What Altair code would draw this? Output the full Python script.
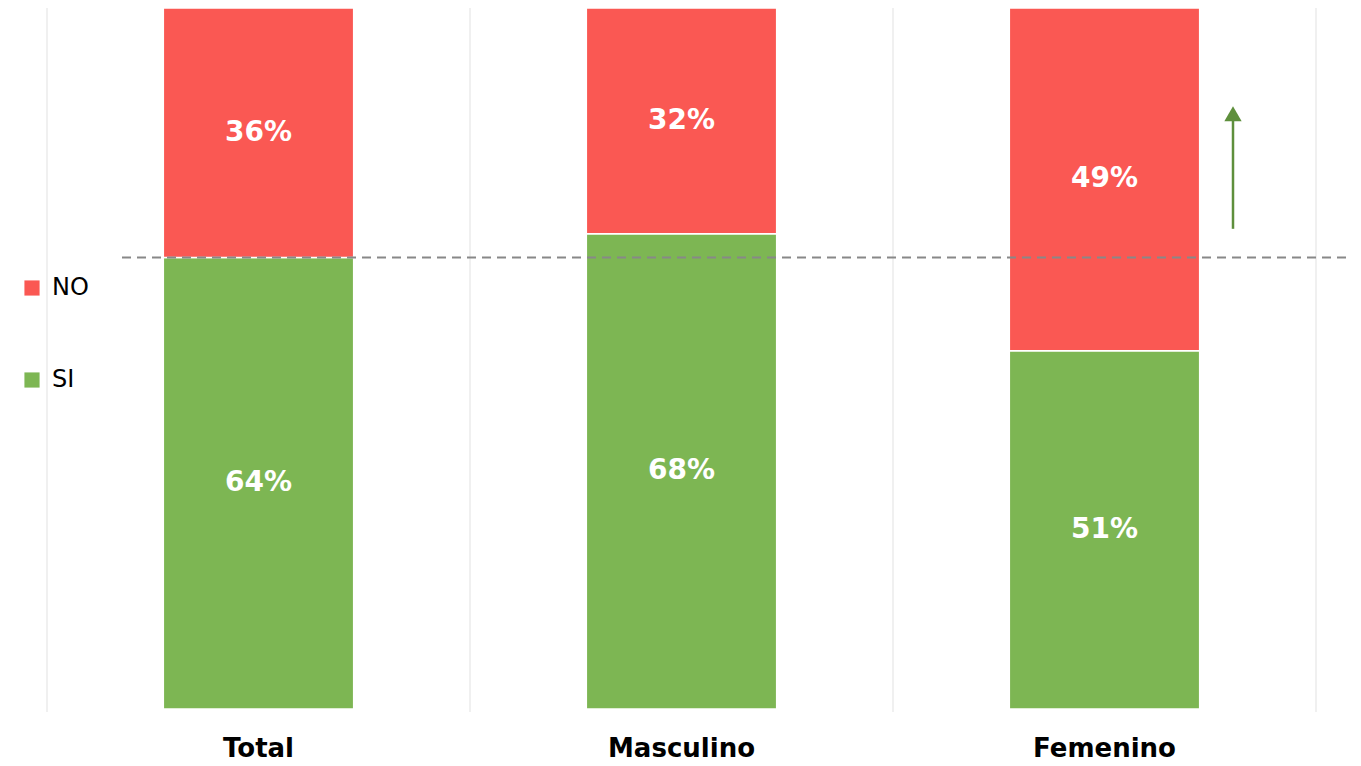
import altair as alt
import pandas as pd

categories = ["Total", "Masculino", "Femenino"]
si_values = [64.4, 67.8, 51.1]
no_values = [35.6, 32.2, 48.9]
series = ["NO", "SI"]
colors = ["#FA5853", "#7DB653"]
grid_positions = [0, 1, 2, 3]

rows = []
for c, s, n in zip(categories, si_values, no_values):
    rows.append({"cat": c, "serie": "SI", "ord": 0, "value": s, "label": f"{round(s)}%"})
    rows.append({"cat": c, "serie": "NO", "ord": 1, "value": n, "label": f"{round(n)}%"})
df = pd.DataFrame(rows)

W, H = 1269, 701
FONT = "DejaVu Sans"

xscale = alt.Scale(domain=categories, paddingInner=0.55, paddingOuter=0.275)
yscale = alt.Scale(domain=[0, 100])

base = alt.Chart(df).transform_stack(
    stack="value", groupby=["cat"], sort=[alt.SortField("ord")], as_=["y0", "y1"]
).transform_calculate(mid="(datum.y0 + datum.y1) / 2")

grid = alt.Chart(pd.DataFrame({"g": grid_positions})).mark_rule(color="#EBEBEB", strokeWidth=1.5).encode(
    x=alt.X("g:Q", scale=alt.Scale(domain=[0, 3], nice=False, zero=False), axis=None),
    y=alt.value(0), y2=alt.value(H + 3))

bars = base.mark_bar(stroke="white", strokeWidth=1.5).encode(
    x=alt.X("cat:N", scale=xscale, sort=categories, title=None,
            axis=alt.Axis(labelAngle=0, domain=False, ticks=False, grid=False,
                          labelFont=FONT, labelFontSize=26, labelFontWeight="bold",
                          labelColor="#000000", labelPadding=26)),
    y=alt.Y("y0:Q", scale=yscale, axis=None),
    y2="y1:Q",
    color=alt.Color("serie:N", scale=alt.Scale(domain=series, range=colors), title=None,
                    legend=alt.Legend(orient="none", legendX=-27, legendY=268, padding=0,
                                      symbolType="square", symbolSize=230, symbolStrokeWidth=0,
                                      labelFont=FONT, labelFontSize=24, labelColor="#000000",
                                      labelOffset=8, rowPadding=68)),
)

texts = base.mark_text(color="white", font=FONT, fontSize=28, fontWeight="bold").encode(
    x=alt.X("cat:N", scale=xscale, sort=categories, title=None),
    y=alt.Y("mid:Q", scale=yscale, axis=None),
    text="label:N",
)

ref = alt.Chart(pd.DataFrame({"v": [si_values[0]]})).mark_rule(
    color="#888888", strokeWidth=2, strokeDash=[9, 6]).encode(
    y=alt.Y("v:Q", scale=yscale, axis=None), x=alt.value(75), x2=alt.value(1310))

arrow_line = alt.Chart(pd.DataFrame({"a": [68.5], "b": [84.0]})).mark_rule(
    color="#5E8F3C", strokeWidth=2.5).encode(
    y=alt.Y("a:Q", scale=yscale, axis=None), y2="b:Q", x=alt.value(1186))
arrow_head = alt.Chart(pd.DataFrame({"a": [84.9]})).mark_point(
    shape="triangle-up", filled=True, color="#5E8F3C", size=300, opacity=1).encode(
    y=alt.Y("a:Q", scale=yscale, axis=None), x=alt.value(1186))

main = alt.layer(bars, texts, ref, arrow_line, arrow_head)

chart = alt.layer(grid, main).resolve_scale(
    x="independent"
).properties(
    width=W, height=H,
    autosize=alt.AutoSizeParams(type="none"),
    padding={"left": 39, "top": 0, "right": 30, "bottom": 56},
).configure_view(stroke=None)

chart.save("out.html", embed_options={"renderer": "svg", "actions": False})
